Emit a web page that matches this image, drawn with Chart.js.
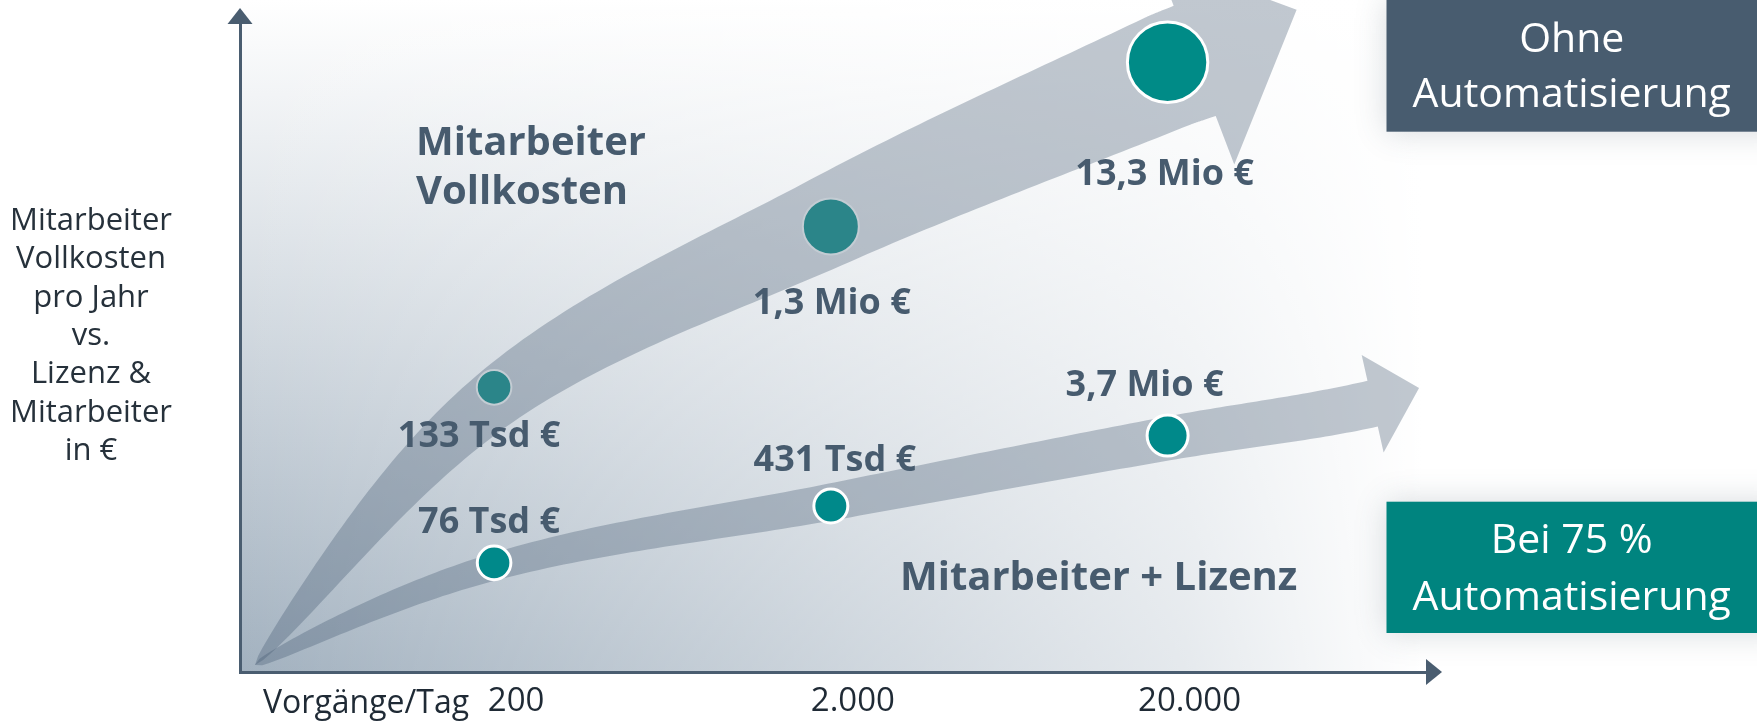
<!DOCTYPE html>
<html lang="de">
<head>
<meta charset="utf-8">
<script src="https://cdn.jsdelivr.net/npm/chart.js@4.4.1/dist/chart.umd.min.js"></script>
<style>
html,body{margin:0;padding:0;background:#fff;overflow:hidden;}
#wrap{position:relative;width:1757px;height:721px;}
canvas{display:block;}
</style>
</head>
<body>
<div id="wrap"><canvas id="c" width="1757" height="721"></canvas></div>
<script>
// ---------------- data ----------------
const vorgaengeProTag = [200, 2000, 20000];               // x values (Vorgänge/Tag)
const xTickValues = [200, 2000, 20000];
const xAxisLabel = 'Vorgänge/Tag';
const ohneAutomatisierung = [133000, 1300000, 13300000];  // Mitarbeiter Vollkosten pro Jahr (€)
const mitAutomatisierung = [76000, 431000, 3700000];      // Mitarbeiter + Lizenz bei 75 % Automatisierung (€)
const seriesNames = [['Mitarbeiter', 'Vollkosten'], ['Mitarbeiter + Lizenz']];
const boxTexts = [['Ohne', 'Automatisierung'], ['Bei 75 %', 'Automatisierung']];
const yAxisTitle = ['Mitarbeiter', 'Vollkosten', 'pro Jahr', 'vs.', 'Lizenz &', 'Mitarbeiter', 'in €'];

// ---------------- helpers ----------------
function euro(v) {
  if (v >= 1e6) return (v / 1e6).toFixed(1).replace('.', ',') + ' Mio €';
  return Math.round(v / 1000) + ' Tsd €';
}
function deNum(v) { return String(v).replace(/\B(?=(\d{3})+(?!\d))/g, '.'); }

// ---------------- styles ----------------
const FONT = '"Open Sans", "DejaVu Sans", sans-serif';
const SLATE = '#475b6e';
const AXIS = '#4a5d70';
const BAND = 'rgba(66,89,112,0.33)';
const seriesStyle = [
  { radius: [17.3, 28, 40.2], fill: ['#2b8589', '#2b8589', '#008b87'], border: ['#c3ccd3', '#c3ccd3', '#ffffff'], bw: [2, 2, 3],
    ldx: [-15, 1, -3], ldy: [60, 88, 123],
    band: { wEnd: 118, p: 0.6, dy: [12, -6, 9], startTurn: -3, ext: 29, extTurn: 3, endTurn: 3, headLen: 114, headW: 222, headTurn: -5.7 } },
  { radius: [16.8, 17, 20.5], fill: ['#00898a', '#00898a', '#00898a'], border: ['#ffffff', '#ffffff', '#ffffff'], bw: [3, 3, 3],
    ldx: [-5, 4, -23], ldy: [-30, -35, -40],
    band: { wEnd: 47, p: 0.37, dy: [4, -4, 3], startTurn: -4, ext: 208, extTurn: 1, endTurn: -2, headLen: 49, headW: 100, headTurn: -6 } }
];

// ---------------- arrow band geometry ----------------
function rot(v, deg) { const r = deg * Math.PI / 180, c = Math.cos(r), s = Math.sin(r); return { x: v.x * c - v.y * s, y: v.x * s + v.y * c }; }
function unit(v) { const l = Math.hypot(v.x, v.y) || 1; return { x: v.x / l, y: v.y / l }; }
function sub(a, b) { return { x: a.x - b.x, y: a.y - b.y }; }

function drawArrow(ctx, O, dataPts, st, color) {
  const pts = [O, ...dataPts.map((p, i) => ({ x: p.x, y: p.y + st.dy[i] }))];
  const n = pts.length;
  const last = pts[n - 1], prev = pts[n - 2];
  const dPrev = unit(sub(last, prev));
  const dExt = rot(dPrev, st.extTurn);
  const dEnd = rot(dPrev, st.endTurn);
  const E = { x: last.x + dExt.x * st.ext, y: last.y + dExt.y * st.ext };
  const K = [...pts, E];
  const D = K.map((k, i) => {
    if (i === 0) return rot(unit(sub(K[1], K[0])), st.startTurn);
    if (i === K.length - 1) return dEnd;
    return unit(sub(K[i + 1], K[i - 1]));
  });
  const sm = [];
  for (let i = 0; i < K.length - 1; i++) {
    const a = K[i], b = K[i + 1], L = Math.hypot(b.x - a.x, b.y - a.y);
    for (let k = 0; k < 40; k++) {
      const t = k / 40, t2 = t * t, t3 = t2 * t;
      const h00 = 2 * t3 - 3 * t2 + 1, h10 = t3 - 2 * t2 + t, h01 = -2 * t3 + 3 * t2, h11 = t3 - t2;
      sm.push({
        x: h00 * a.x + h10 * L * D[i].x + h01 * b.x + h11 * L * D[i + 1].x,
        y: h00 * a.y + h10 * L * D[i].y + h01 * b.y + h11 * L * D[i + 1].y
      });
    }
  }
  sm.push(E);
  const s = [0];
  for (let i = 1; i < sm.length; i++) s.push(s[i - 1] + Math.hypot(sm[i].x - sm[i - 1].x, sm[i].y - sm[i - 1].y));
  const S = s[s.length - 1];
  const Lft = [], Rgt = [];
  for (let i = 0; i < sm.length; i++) {
    let t;
    if (i === sm.length - 1) t = dEnd;
    else t = unit(sub(sm[Math.min(i + 1, sm.length - 1)], sm[Math.max(i - 1, 0)]));
    const nrm = { x: t.y, y: -t.x };
    const w = st.wEnd * Math.pow(s[i] / S, st.p) / 2;
    Lft.push({ x: sm[i].x + nrm.x * w, y: sm[i].y + nrm.y * w });
    Rgt.push({ x: sm[i].x - nrm.x * w, y: sm[i].y - nrm.y * w });
  }
  const nE = { x: dEnd.y, y: -dEnd.x };
  const hd = rot(dEnd, st.headTurn);
  const tip = { x: E.x + hd.x * st.headLen, y: E.y + hd.y * st.headLen };
  const bL = { x: E.x + nE.x * st.headW / 2, y: E.y + nE.y * st.headW / 2 };
  const bR = { x: E.x - nE.x * st.headW / 2, y: E.y - nE.y * st.headW / 2 };
  ctx.beginPath();
  ctx.moveTo(Lft[0].x, Lft[0].y);
  for (let i = 1; i < Lft.length; i++) ctx.lineTo(Lft[i].x, Lft[i].y);
  ctx.lineTo(bL.x, bL.y); ctx.lineTo(tip.x, tip.y); ctx.lineTo(bR.x, bR.y);
  for (let i = Rgt.length - 1; i >= 0; i--) ctx.lineTo(Rgt[i].x, Rgt[i].y);
  ctx.closePath();
  ctx.fillStyle = color;
  ctx.fill();
}

// ---------------- plugin for decoration / annotations ----------------
const decor = {
  id: 'decor',
  beforeDraw(chart) {
    const { ctx, chartArea: a } = chart;
    ctx.save();
    ctx.fillStyle = '#ffffff';
    ctx.fillRect(0, 0, chart.width, chart.height);
    const x0 = a.left, x1 = a.right - 8, y0 = 0, y1 = a.bottom;
    const g = ctx.createLinearGradient(0, y0, 0, y1);
    g.addColorStop(0, '#ffffff');
    g.addColorStop(1, '#a2b1bf');
    ctx.fillStyle = g;
    ctx.fillRect(x0, y0, x1 - x0, y1 - y0);
    const h = ctx.createLinearGradient(x0, 0, x1, 0);
    h.addColorStop(0, 'rgba(255,255,255,0)');
    h.addColorStop(0.3, 'rgba(255,255,255,0.28)');
    h.addColorStop(0.8, 'rgba(255,255,255,0.72)');
    h.addColorStop(1, 'rgba(255,255,255,1)');
    ctx.fillStyle = h;
    ctx.fillRect(x0, y0, x1 - x0, y1 - y0);
    ctx.restore();
  },
  beforeDatasetsDraw(chart) {
    const { ctx, chartArea: a } = chart;
    const O = { x: a.left + 15, y: a.bottom - 7 };
    ctx.save();
    chart.data.datasets.forEach((ds, di) => {
      const meta = chart.getDatasetMeta(di);
      drawArrow(ctx, O, meta.data, seriesStyle[di].band, BAND);
    });
    ctx.restore();
  },
  afterDatasetsDraw(chart) {
    const { ctx, chartArea: a, width: W } = chart;
    ctx.save();
    // axis arrowheads
    ctx.fillStyle = AXIS;
    ctx.beginPath();
    ctx.moveTo(a.left - 12.5, a.top + 2); ctx.lineTo(a.left, a.top - 14); ctx.lineTo(a.left + 12.5, a.top + 2);
    ctx.closePath(); ctx.fill();
    ctx.beginPath();
    ctx.moveTo(a.right - 4, a.bottom - 13); ctx.lineTo(a.right + 12, a.bottom); ctx.lineTo(a.right - 4, a.bottom + 13);
    ctx.closePath(); ctx.fill();

    // value labels
    ctx.fillStyle = SLATE;
    ctx.font = 'bold 36px ' + FONT;
    ctx.textAlign = 'center';
    ctx.textBaseline = 'alphabetic';
    chart.data.datasets.forEach((ds, di) => {
      const meta = chart.getDatasetMeta(di);
      const st = seriesStyle[di];
      meta.data.forEach((el, i) => {
        ctx.fillText(euro(ds.data[i].y), el.x + st.ldx[i], el.y + st.ldy[i]);
      });
    });

    // series names
    ctx.font = 'bold 40px ' + FONT;
    ctx.textAlign = 'left';
    ctx.fillText(seriesNames[0][0], a.left + 176, 155);
    ctx.fillText(seriesNames[0][1], a.left + 176, 204);
    ctx.fillText(seriesNames[1][0], a.left + 660, 590);

    // y axis title (left, horizontal)
    ctx.fillStyle = '#26313b';
    ctx.font = '31px ' + FONT;
    ctx.textAlign = 'center';
    yAxisTitle.forEach((t, i) => ctx.fillText(t, 91, 230 + i * 38.3));

    // x axis caption
    ctx.fillStyle = '#1f2a35';
    ctx.font = '32px ' + FONT;
    ctx.textAlign = 'left';
    ctx.fillText(xAxisLabel, a.left + 23, 713);

    // boxes on the right
    const bx = W - 370.5, bw = 370.5;
    const boxes = [
      { y: 0, h: 131.7, color: '#485c6f', base: [52, 107] },
      { y: 501.7, h: 131.3, color: '#00847f', base: [553, 610] }
    ];
    boxes.forEach((b, i) => {
      ctx.save();
      ctx.shadowColor = 'rgba(70,85,100,0.22)';
      ctx.shadowBlur = 30;
      ctx.fillStyle = b.color;
      ctx.fillRect(bx, b.y, bw + 30, b.h);
      ctx.restore();
      ctx.fillStyle = '#ffffff';
      ctx.font = '41px ' + FONT;
      ctx.textAlign = 'center';
      boxTexts[i].forEach((t, k) => ctx.fillText(t, bx + bw / 2, b.base[k]));
    });
    ctx.restore();
  }
};

// ---------------- chart ----------------
const ctx = document.getElementById('c').getContext('2d');
new Chart(ctx, {
  type: 'scatter',
  data: {
    datasets: [
      {
        label: 'Mitarbeiter Vollkosten',
        data: vorgaengeProTag.map((x, i) => ({ x, y: ohneAutomatisierung[i] })),
        yAxisID: 'yUp',
        pointRadius: seriesStyle[0].radius,
        pointBackgroundColor: seriesStyle[0].fill,
        pointBorderColor: seriesStyle[0].border,
        pointBorderWidth: seriesStyle[0].bw,
        pointHoverRadius: seriesStyle[0].radius,
        clip: false
      },
      {
        label: 'Mitarbeiter + Lizenz',
        data: vorgaengeProTag.map((x, i) => ({ x, y: mitAutomatisierung[i] })),
        yAxisID: 'yLo',
        pointRadius: seriesStyle[1].radius,
        pointBackgroundColor: seriesStyle[1].fill,
        pointBorderColor: seriesStyle[1].border,
        pointBorderWidth: seriesStyle[1].bw,
        pointHoverRadius: seriesStyle[1].radius,
        clip: false
      }
    ]
  },
  options: {
    responsive: false,
    animation: false,
    devicePixelRatio: 1,
    events: [],
    layout: { autoPadding: false, padding: { left: 240, top: 22, right: 327, bottom: 0 } },
    plugins: { legend: { display: false }, tooltip: { enabled: false } },
    scales: {
      x: {
        type: 'logarithmic', position: 'bottom', min: 35.2, max: 120300, bounds: 'data',
        afterBuildTicks(s) { s.ticks = xTickValues.map(v => ({ value: v })); },
        afterFit(s) { s.height = 49; },
        ticks: { callback: v => deNum(v), font: { family: FONT, size: 33 }, color: '#1f2a35', padding: 10, labelOffset: 22, maxRotation: 0, autoSkip: false },
        grid: { display: false, drawTicks: false },
        border: { display: true, color: AXIS, width: 3 }
      },
      yUp: {
        type: 'logarithmic', position: 'left', min: 2360, max: 2.35e7, bounds: 'data',
        afterFit(s) { s.width = 0; },
        ticks: { display: false },
        grid: { display: false, drawTicks: false },
        border: { display: true, color: AXIS, width: 3 }
      },
      yLo: {
        type: 'logarithmic', position: 'left', min: 2710, max: 1.13e12, bounds: 'data', display: false
      }
    }
  },
  plugins: [decor]
});
</script>
</body>
</html>
